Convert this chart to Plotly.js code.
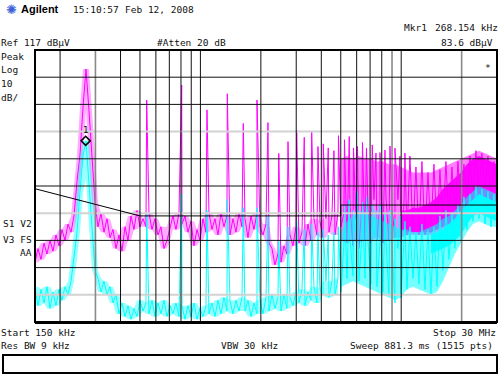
<!DOCTYPE html>
<html>
<head>
<meta charset="utf-8">
<script src="https://cdn.plot.ly/plotly-3.0.1.min.js"></script>
<style>html,body{margin:0;padding:0;background:#fff;}#chart{width:500px;height:375px;}</style>
</head>
<body>
<div id="chart"></div>
<script>
// ---- sweep grid (kHz) ----
const gridFreqKHz = [150.0,155.2,160.7,166.3,172.1,178.2,184.4,190.8,197.5,204.4,
211.6,219.0,226.7,234.6,242.8,251.3,260.1,269.2,278.6,288.4,
298.5,308.9,319.7,330.9,342.5,354.5,366.9,379.7,393.0,406.8,
421.0,435.8,451.0,466.8,483.1,500.0,517.5,535.6,554.4,573.8,
593.8,614.6,636.1,658.4,681.4,705.3,730.0,755.5,782.0,809.3,
837.6,866.9,897.3,928.7,961.2,994.8,1029.7,1065.7,1103.0,1141.6,
1181.6,1222.9,1265.7,1310.0,1355.9,1403.4,1452.5,1503.3,1555.9,1610.4,
1666.7,1725.0,1785.4,1847.9,1912.6,1979.5,2048.8,2120.5,2194.7,2271.5,
2351.0,2433.3,2518.5,2606.6,2697.9,2792.3,2890.0,2991.2,3095.9,3204.2,
3316.4,3432.4,3552.6,3676.9,3805.6,3938.8,4076.7,4219.3,4367.0,4519.9,
4678.1,4841.8,5011.3,5186.7,5368.2,5556.1,5750,5951,6160,6375,
6598,6829,7068,7316,7572,7837,8111,8395,8689,8993,
9308,9634,9971,10320,10681,11055,11442,11842,12257,12686,
13130,13589,14065,14557,15067,15594,16140,16705,17289,17894,
18521,19169,19840,20534,21253,21997,22767,23564,24389,25242,
26126,27040,27986,28966,29980];

// trace 1 (magenta) levels on the grid, dBuV
const magFloorDb = [39,44,40,46,42,47,43,49,45,51,47,53,50,
56,68.6,78.4,96,110,94.7,76,61,
52,57,50,55,48,51,44,49,43,52,47,56,51,58,52,
55,52,57,51,55,49,52,44,47,52,56,51,57,53,56,50,54,45,51,47,
55,50,57,51,55,49,57,52,56,49,55,50,57,52,55,48,56,51,57,52,
49,53,46,44,38,42,39,45,42,49,45,52,46,50,45,53,47,55,49,54,48,55,50,56,49,57,52,
57,46,60,45,55,44,61,47,58,46,62,47,60,46,63,47,59,48,62,46,60,49,
78,50,74,49,76,49,72,50,75,51,73,52,76,53,74,54,76,57,75,60,78,62,80,64,79,63,78,62,76,64];

// trace 2 (cyan) levels on the grid, dBuV
const cyanFloorDb = [30,23,29,24,30,22,28,23,29,25,30,27,32,
40,50,65,78,83.6,69.5,52,36,
33,28,32,27,30,24,27,20,24,19,23,18,22,19,25,
21,24,20,25,19,24,20,25,19,23,20,24,19,23,18,23,19,24,18,22,
19,23,20,24,19,25,20,26,21,25,20,25,21,26,21,25,19,24,20,25,
20,26,21,27,22,26,21,27,22,26,23,28,24,29,23,28,25,30,24,29,27,32,26,32,27,33,28,
46,33,48,34,50,32,49,33,47,31,48,30,46,28,47,27,45,24,44,26,47,29,
52,33,50,31,53,29,51,27,52,30,56,36,58,40,57,44,60,47,63,51,64,54,67,55,66,53,65,52,64,53];

// harmonic spikes
const spikeFreqKHz = [540,806.7,1078,1361,1635,1913,2170,2456,2730,3016,
3290,3582,3850,4092,4332,4624,4870,5217,5512,5785,
6057,6414,6715,7177,7488,7839,8301,8791,9309,9858,10438];
const magSpikeDb = [98.6,104.1,95.0,100.9,90.0,98.6,90.3,79.0,83.3,87.6,
84.9,87.2,81.5,82.5,81.0,80.0,85.5,84.0,85.2,81.0,
81.5,83.0,81.0,82.1,79.1,79.3,80.2,81.7,80.9,78.0,79.1];
const cyanSpikeDb = [57,64,58,62,59,59,56,47,52,54,
51,53,50,51,49,50,52,60,62,58,
65,61,63,60,58,60,57,58,55,56,54];

// dense high-frequency region: spread of the many harmonic lines
const hazeFreqKHz = [5011,5368,5750,6160,6598,7068,7572,8111,8689,9308,9971,10681,11442,12257,13130,14065,15067,16140,17289,18521,19840,21253,22767,24389,26126,27986,30000];
const magHazeTopDb    = [77,78,77,78,77,77,76,76,75,75,74,73,72,72,72,72,73,74,75,76,77,78,79,80,79,78,77];
const magHazeBottomDb = [47,46,47,46,47,47,48,47,47,48,48,49,49,49,49,49,50,51,52,54,55,57,59,60,59,58,58];
const cyanHazeTopDb    = [50,54,56,58,57,56,55,54,53,52,51,51,50,50,51,52,53,55,56,58,60,63,65,67,66,65,64];
const cyanHazeBottomDb = [30,31,32,31,30,29,28,27,26,25,26,29,30,29,28,27,28,32,37,42,46,50,53,54,53,52,52];

// dense high-frequency cores (solid)
const magCoreFreqKHz = [9971,10681,11442,12257,13130,14065,15067,16140,17289,18521,19840,21253,22767,24389,26126,27986,30000];
const magCoreTopDb    = [58,58,59,59,60,61,63,66,68,70,72,75,77,78,77,76,75];
const magCoreBottomDb = [51,50,50,50,50,50,51,52,53,55,56,58,60,61,60,59,59];
const cyanCoreFreqKHz = [14065,15067,16140,17289,18521,19840,21253,22767,24389,26126,27986,30000];
const cyanCoreTopDb    = [49,50,51,53,55,58,60,62,64,63,62,61];
const cyanCoreBottomDb = [42,43,44,45,47,49,53,56,57,56,55,54];

// limit line
const limitFreqKHz = [150,500,5000,5000,30000];
const limitDb = [66,56,56,60,60];

// marker
const markerFreqKHz = [268.154];
const markerDb = [83.6];

// graticule
const vGridKHz = [200,400,500,600,700,800,900,1000,2000,3000,4000,5000,6000,7000,8000,10000];
const vGridLightKHz = [300,9000,20000];
const hGridDb = [107,97,77,67,47,37];
const hGridLightDb = [87,57,27];
const refLevelDb = 117, bottomDb = 17;
const startKHz = 150, stopKHz = 30000;

function merge(fa, va, fb, vb) {
  const pts = [];
  fa.forEach((f, i) => pts.push([f, va[i]]));
  fb.forEach((f, i) => pts.push([f, vb[i]]));
  pts.sort((a, b) => a[0] - b[0]);
  return {x: pts.map(p => p[0]), y: pts.map(p => p[1])};
}
// polygon between two level arrays
function bandPoly(f, top, bot) {
  return {x: f.concat(f.slice().reverse()), y: top.concat(bot.slice().reverse())};
}
// spread of the noise trace: local max/min of neighbouring sweep points (up to the dense region)
function noiseSpread(f, v, endF) {
  const ff = [], top = [], bot = [];
  const n = f.filter(x => x <= endF).length;
  for (let i = 0; i < n; i++) {
    const w = v.slice(Math.max(0, i - 1), Math.min(n, i + 2));
    ff.push(f[i]); top.push(Math.max(...w)); bot.push(Math.min(...w));
  }
  return bandPoly(ff, top, bot);
}
function vLines(freqs) {
  const x = [], y = [];
  freqs.forEach(f => { x.push(f, f, null); y.push(bottomDb, refLevelDb, null); });
  return {x, y};
}
function hLines(levels) {
  const x = [], y = [];
  levels.forEach(l => { x.push(startKHz, stopKHz, null); y.push(l, l, null); });
  return {x, y};
}

const MAG = '#ff00ff', CY = '#00ffff';
const mag = merge(gridFreqKHz, magFloorDb, spikeFreqKHz, magSpikeDb);
const cy = merge(gridFreqKHz, cyanFloorDb, spikeFreqKHz, cyanSpikeDb);
const magSpread = noiseSpread(gridFreqKHz, magFloorDb, hazeFreqKHz[0]);
const cySpread = noiseSpread(gridFreqKHz, cyanFloorDb, hazeFreqKHz[0]);
const magHaze = bandPoly(hazeFreqKHz, magHazeTopDb, magHazeBottomDb);
const cyHaze = bandPoly(hazeFreqKHz, cyanHazeTopDb, cyanHazeBottomDb);
const magCore = bandPoly(magCoreFreqKHz, magCoreTopDb, magCoreBottomDb);
const cyCore = bandPoly(cyanCoreFreqKHz, cyanCoreTopDb, cyanCoreBottomDb);
const vg = vLines(vGridKHz), vgl = vLines(vGridLightKHz), hg = hLines(hGridDb), hgl = hLines(hGridLightDb);

function poly(p, color) {
  return {x: p.x, y: p.y, mode: 'lines', line: {width: 0, color: color}, fill: 'toself', fillcolor: color};
}
const traces = [
  poly(magSpread, 'rgba(255,0,255,0.32)'),
  poly(magHaze, 'rgba(255,0,255,0.5)'),
  poly(magCore, 'rgba(255,0,255,0.95)'),
  {x: mag.x, y: mag.y, mode: 'lines', line: {width: 1, color: MAG}},
  poly(cySpread, 'rgba(0,255,255,0.4)'),
  poly(cyHaze, 'rgba(0,255,255,0.55)'),
  poly(cyCore, 'rgba(0,255,255,0.95)'),
  {x: cy.x, y: cy.y, mode: 'lines', line: {width: 1, color: CY}},
  {x: hgl.x, y: hgl.y, mode: 'lines', line: {width: 2, color: '#d2d2d2'}, connectgaps: false},
  {x: vgl.x, y: vgl.y, mode: 'lines', line: {width: 1.6, color: '#8a8a8a'}, connectgaps: false},
  {x: vg.x, y: vg.y, mode: 'lines', line: {width: 1, color: '#111'}, connectgaps: false},
  {x: hg.x, y: hg.y, mode: 'lines', line: {width: 1, color: '#111'}, connectgaps: false},
  {x: limitFreqKHz, y: limitDb, mode: 'lines', line: {width: 1, color: '#000'}},
  {x: markerFreqKHz, y: markerDb, mode: 'markers+text', text: ['1'], textposition: 'top center',
   textfont: {family: 'DejaVu Sans Mono', size: 9, color: '#000'},
   marker: {symbol: 'diamond-open', size: 7, color: '#000', line: {width: 1.5, color: '#000'}}}
];

const L = 35, R = 497, T = 50, B = 322;
const px = v => (v - L) / (R - L);
const py = v => (B - v) / (B - T);
const MONO = 'DejaVu Sans Mono';
function txt(text, x, y, anchor, opts) {
  opts = opts || {};
  return {text, xref: 'paper', yref: 'paper', x: px(x), y: py(y), xanchor: anchor, yanchor: 'middle',
    showarrow: false, borderpad: 0,
    font: {family: opts.family || MONO, size: opts.size || 9.5, color: opts.color || '#111'}};
}
const annotations = [
  txt('✺', 11, 9, 'center', {family: 'DejaVu Sans', size: 13, color: '#3a62d8'}),
  txt('<b>Agilent</b>', 20, 9, 'left', {family: 'Liberation Sans', size: 11, color: '#000'}),
  txt('15:10:57', 72, 9, 'left'),
  txt('Feb 12, 2008', 124, 9, 'left'),
  txt('Mkr1', 403, 27, 'left'),
  txt('268.154 kHz', 499, 27, 'right'),
  txt('83.6 dBµV', 494, 42, 'right'),
  txt('Ref 117 dBµV', 0, 42, 'left'),
  txt('#Atten 20 dB', 156, 42, 'left'),
  txt('Peak', 0, 56, 'left'),
  txt('Log', 0, 70, 'left'),
  txt('10', 0, 83, 'left'),
  txt('dB/', 0, 97, 'left'),
  txt('S1 V2', 33, 223, 'right'),
  txt('V3 FS', 33, 239, 'right'),
  txt('AA', 33, 252, 'right'),
  txt('*', 488, 67, 'center'),
  txt('Start 150 kHz', 0, 332, 'left'),
  txt('Stop 30 MHz', 497, 332, 'right'),
  txt('Res BW 9 kHz', 0, 345, 'left'),
  txt('VBW 30 kHz', 249, 345, 'center'),
  txt('Sweep 881.3 ms (1515 pts)', 494, 345, 'right')
];

const shapes = [
  {type: 'rect', xref: 'paper', yref: 'paper', x0: 0, x1: 1, y0: 0, y1: 1, line: {color: '#000', width: 2}, layer: 'above'},
  {type: 'line', xref: 'paper', yref: 'paper', x0: 0, x1: 1, y0: py(322.5), y1: py(322.5), line: {color: '#000', width: 3}, layer: 'above'},
  {type: 'rect', xref: 'paper', yref: 'paper', x0: px(3), x1: px(497), y0: py(373), y1: py(355), line: {color: '#000', width: 2}, layer: 'above'}
];

const layout = {
  width: 500, height: 375,
  margin: {l: L, r: 500 - R, t: T, b: 375 - B, pad: 0},
  paper_bgcolor: '#fff', plot_bgcolor: '#fff',
  showlegend: false,
  xaxis: {type: 'log', range: [Math.log10(startKHz), Math.log10(stopKHz)], showgrid: false, zeroline: false,
          showticklabels: false, ticks: '', showline: false},
  yaxis: {range: [bottomDb, refLevelDb], showgrid: false, zeroline: false, showticklabels: false, ticks: '', showline: false},
  annotations, shapes
};
Plotly.newPlot('chart', traces, layout, {staticPlot: true, displayModeBar: false});
</script>
</body>
</html>
